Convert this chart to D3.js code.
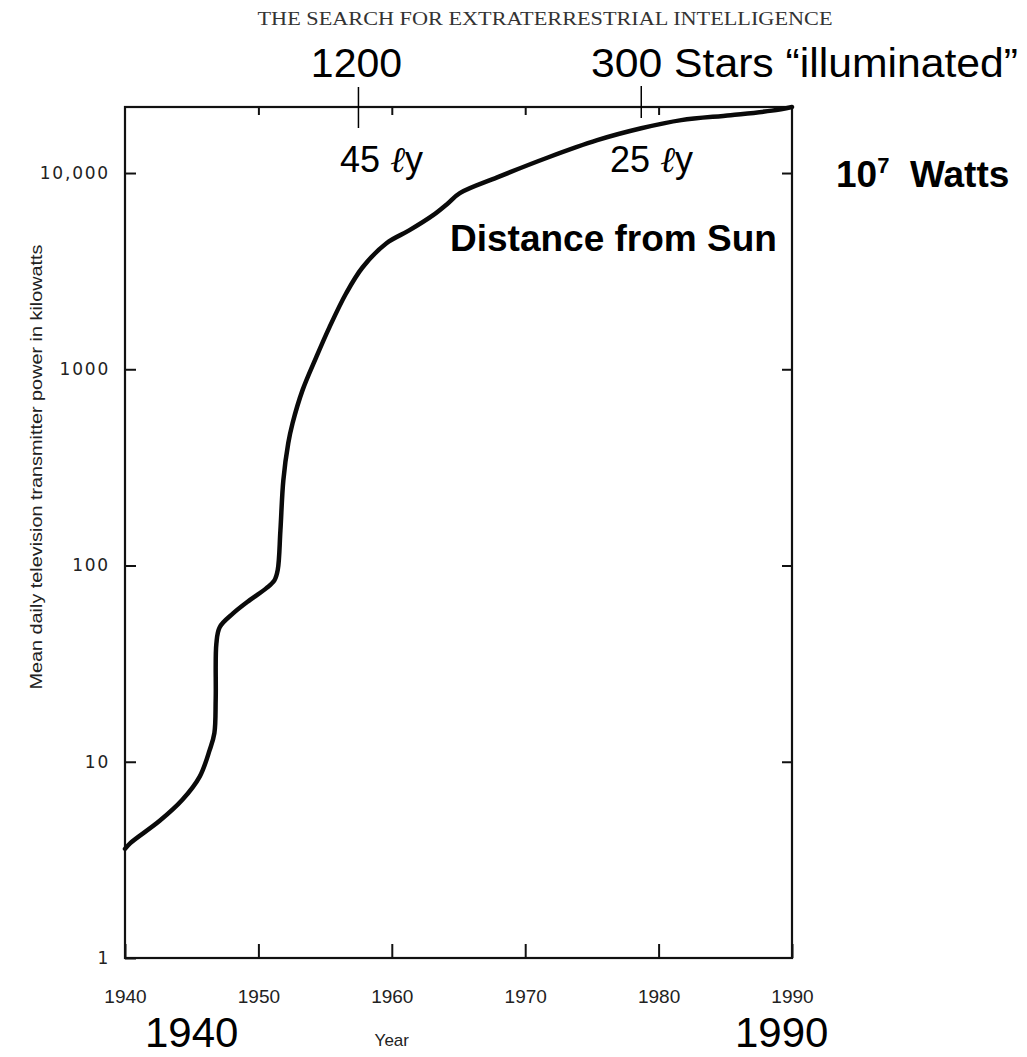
<!DOCTYPE html>
<html>
<head>
<meta charset="utf-8">
<script src="https://cdn.jsdelivr.net/npm/d3@7"></script>
<style>
  html, body { margin: 0; padding: 0; background: #fff; }
  svg { display: block; }
</style>
</head>
<body>
<svg id="chart" width="1027" height="1057"></svg>
<script>
// ---- data ----
const years = [1940, 1940.4, 1942.6, 1944.3, 1945.6, 1946.35, 1946.7, 1946.8, 1946.85, 1947.1,
  1948.1, 1949.35, 1950.6, 1951.2, 1951.45, 1951.65, 1951.87, 1952.24, 1952.56, 1953.31,
  1954.33, 1955.33, 1956.58, 1957.8, 1959.6, 1961.3, 1963.1, 1964.2, 1965.1, 1967.9,
  1971.7, 1975.4, 1978.7, 1981.7, 1985.4, 1988.5, 1990];
const powerKW = [3.6, 3.85, 5.0, 6.4, 8.4, 11.5, 14, 21, 40, 48.5,
  57, 66.6, 76.7, 84, 95, 151, 272, 421, 531, 783,
  1150, 1640, 2440, 3300, 4390, 5100, 6100, 7000, 7900, 9500,
  12000, 14700, 16900, 18600, 19700, 20800, 21700];
const xTickValues = [1940, 1950, 1960, 1970, 1980, 1990];
const yTickValues = [1, 10, 100, 1000, 10000];
const yTickLabels = ["1", "10", "100", "1000", "10,000"];
const markerYears = [1957.5, 1978.7];
const markerTopLabels = ["1200", "300 Stars \u201Cilluminated\u201D"];
const markerDistLabels = ["45", "25"];
const chartTitle = "THE SEARCH FOR EXTRATERRESTRIAL INTELLIGENCE";
const yAxisTitle = "Mean daily television transmitter power in kilowatts";
const xAxisTitle = "Year";
const bigYearLabels = ["1940", "1990"];

(function () {
// ---- layout ----
const svg = d3.select("#chart");
const pL = 125, pR = 792, pT = 107, pB = 958;
const x = d3.scaleLinear().domain([1940, 1990]).range([pL, pR]);
const y = d3.scaleLog().domain([1, 21700]).range([pB, pT]);

const sans = "'Liberation Sans', Arial, Helvetica, sans-serif";

// title
svg.append("text")
  .attr("x", 545).attr("y", 25)
  .attr("text-anchor", "middle")
  .attr("font-family", "'Liberation Serif', 'Times New Roman', serif")
  .attr("font-size", 18)
  .attr("fill", "#333")
  .attr("textLength", 575).attr("lengthAdjust", "spacingAndGlyphs")
  .text(chartTitle);

// axes
const yTickFmt = d => yTickLabels[yTickValues.indexOf(d)];
const gL = svg.append("g").attr("transform", `translate(${pL},0)`)
  .call(d3.axisLeft(y).tickValues(yTickValues).tickFormat(yTickFmt).tickSize(-11).tickPadding(15));
const gR = svg.append("g").attr("transform", `translate(${pR},0)`)
  .call(d3.axisRight(y).tickValues(yTickValues.slice(1)).tickFormat("").tickSize(-10));
const gB = svg.append("g").attr("transform", `translate(0,${pB})`)
  .call(d3.axisBottom(x).tickValues(xTickValues).tickSize(-14).tickPadding(32).tickFormat(d3.format("d")));
const gT = svg.append("g").attr("transform", `translate(0,${pT})`)
  .call(d3.axisTop(x).tickValues(xTickValues.slice(1, -1)).tickFormat("").tickSize(-8));

[gL, gR, gB, gT].forEach(g => {
  g.select(".domain").remove();
  g.selectAll(".tick line").attr("stroke", "#111").attr("stroke-width", 2);
});
gL.selectAll(".tick text")
  .attr("font-family", "'DejaVu Sans', sans-serif")
  .attr("font-size", 17).attr("letter-spacing", 1.8).attr("fill", "#222");
gB.selectAll(".tick text")
  .attr("font-family", sans).attr("font-size", 19).attr("fill", "#222");

// frame
svg.append("rect")
  .attr("x", pL).attr("y", pT)
  .attr("width", pR - pL).attr("height", pB - pT)
  .attr("fill", "none").attr("stroke", "#111").attr("stroke-width", 2.2);

// axis titles
svg.append("text")
  .attr("transform", `translate(42,467) rotate(-90)`)
  .attr("text-anchor", "middle")
  .attr("font-family", sans).attr("font-size", 16).attr("fill", "#222")
  .attr("textLength", 445).attr("lengthAdjust", "spacingAndGlyphs")
  .text(yAxisTitle);
svg.append("text")
  .attr("x", x(1960)).attr("y", 1046)
  .attr("text-anchor", "middle")
  .attr("font-family", sans).attr("font-size", 17).attr("fill", "#222")
  .text(xAxisTitle);

// curve
const pts = years.map((yr, i) => [x(yr), y(powerKW[i])]);
svg.append("path")
  .attr("d", d3.line().curve(d3.curveCatmullRom.alpha(0.5))(pts))
  .attr("fill", "none").attr("stroke", "#0a0a0a")
  .attr("stroke-width", 4.5).attr("stroke-linejoin", "round").attr("stroke-linecap", "round");

// marker lines & labels
svg.append("line")
  .attr("x1", x(markerYears[0])).attr("x2", x(markerYears[0]))
  .attr("y1", 87).attr("y2", 128).attr("stroke", "#000").attr("stroke-width", 1.5);
svg.append("line")
  .attr("x1", x(markerYears[1])).attr("x2", x(markerYears[1]))
  .attr("y1", 86).attr("y2", 118).attr("stroke", "#000").attr("stroke-width", 1.5);

svg.append("text").attr("x", x(markerYears[0]) - 2).attr("y", 77)
  .attr("text-anchor", "middle").attr("font-family", sans).attr("font-size", 41)
  .text(markerTopLabels[0]);
svg.append("text").attr("x", 591).attr("y", 77)
  .attr("font-family", sans).attr("font-size", 40)
  .attr("textLength", 427).attr("lengthAdjust", "spacingAndGlyphs")
  .text(markerTopLabels[1]);

function distLabel(xPos, num) {
  const t = svg.append("text").attr("x", xPos).attr("y", 172)
    .attr("font-family", sans).attr("font-size", 36);
  t.append("tspan").text(num + " ");
  t.append("tspan").attr("font-style", "italic").attr("font-family", "'DejaVu Serif', serif").text("\u2113");
  t.append("tspan").text("y");
}
distLabel(340, markerDistLabels[0]);
distLabel(610, markerDistLabels[1]);

// bold annotations
svg.append("text").attr("x", 450).attr("y", 251)
  .attr("font-family", sans).attr("font-size", 37).attr("font-weight", "bold")
  .text("Distance from Sun");
const watts = svg.append("text").attr("x", 836).attr("y", 187)
  .attr("font-family", sans).attr("font-size", 37).attr("font-weight", "bold");
watts.append("tspan").text("10");
watts.append("tspan").attr("dy", -14).attr("font-size", 22).text("7");
watts.append("tspan").attr("dy", 14).text("\u00A0 Watts");

// big year labels
svg.append("text").attr("x", 145).attr("y", 1047)
  .attr("font-family", sans).attr("font-size", 42).text(bigYearLabels[0]);
svg.append("text").attr("x", 735).attr("y", 1047)
  .attr("font-family", sans).attr("font-size", 42).text(bigYearLabels[1]);
})();
</script>
</body>
</html>
